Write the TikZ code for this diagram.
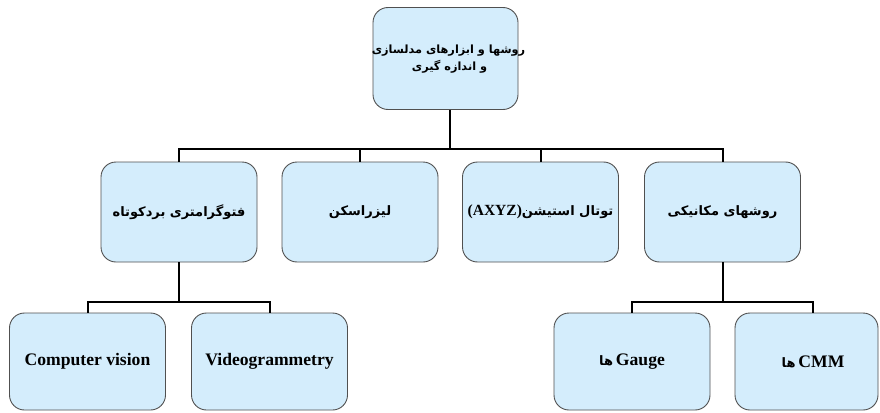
\documentclass[tikz,border=0pt]{standalone}
\usepackage{fontspec}
\setmainfont{Liberation Serif}
\newfontfamily\arabicfont[Script=Arabic]{DejaVu Sans}
\TeXXeTstate=1
\definecolor{boxblue}{RGB}{212,237,252}
\definecolor{boxline}{RGB}{80,80,80}
\tikzset{
  box/.style={draw=boxline, fill=boxblue, line width=0.9pt, rounded corners=15pt,
    minimum width=156pt, minimum height=100pt, align=center, inner sep=1pt},
  conn/.style={draw=black, line width=2pt},
  ar/.style={font=\arabicfont\bfseries\fontsize{13}{17}\selectfont},
  la/.style={font=\bfseries\fontsize{17.6}{20}\selectfont}
}
\newcommand\arha{{\arabicfont\bfseries\fontsize{13}{17}\selectfont ها}}
\begin{document}
\begin{tikzpicture}[x=1pt,y=-1pt]
\useasboundingbox (0,0) rectangle (880,412);
\clip (0,0) rectangle (880,412);
% top
\node[box, minimum width=145pt, minimum height=102pt,
  font=\arabicfont\bfseries\fontsize{11.3}{17}\selectfont] (top) at (445.5,58.5)
  {\raisebox{-10pt}{\begin{tabular}{@{}c@{}}
   \makebox[130pt][c]{\hspace*{6pt}\beginR روشها و ابزارهای مدلسازی\endR}\\[0pt]
   \makebox[130pt][c]{\hspace*{8pt}\beginR و اندازه گیری\endR}\end{tabular}}};
% second row
\node[box, ar] (photo) at (179,212) {\beginR فتوگرامتری بردکوتاه\endR};
\node[box, ar] (laser) at (360,212) {\beginR لیزراسکن\endR};
\node[box, ar] (total) at (540.5,212) {\beginR توتال استیشن\beginL{\fontspec{Liberation Serif}\bfseries\fontsize{15.5}{17}\selectfont(AXYZ)}\endL\endR};
\node[box, ar] (mech) at (722.5,212) {\beginR روشهای مکانیکی\endR};
% third row
\node[box, la, minimum height=97pt] (cv) at (87.5,361.5) {\raisebox{-4pt}{Computer vision}};
\node[box, la, minimum height=97pt] (video) at (269.5,361.5) {\raisebox{-4pt}{Videogrammetry}};
\node[box, la, minimum height=97pt] (gauge) at (632,361.5) {\raisebox{-4pt}{\beginR Gauge\,\arha\endR}};
\node[box, la, minimum height=97pt, minimum width=143pt] (cmm) at (806.5,361.5) {\raisebox{-4pt}{\hspace*{13pt}\beginR CMM\,\arha\endR}};
% connectors
\coordinate (j1) at (450,148.5);
\draw[conn] ([xshift=4.5pt]top.south) -- (j1);
\draw[conn] (photo.north) |- (j1) -| (mech.north);
\draw[conn] (laser.north) -- (laser.north |- j1);
\draw[conn] (total.north) -- (total.north |- j1);
\coordinate (j2) at (179,302);
\draw[conn] (photo.south) -- (j2);
\draw[conn] (cv.north) |- (j2) -| (video.north);
\coordinate (j3) at (722.5,302);
\draw[conn] (mech.south) -- (j3);
\draw[conn] (gauge.north) |- (j3) -| ([xshift=6.5pt]cmm.north);
\end{tikzpicture}
\end{document}
